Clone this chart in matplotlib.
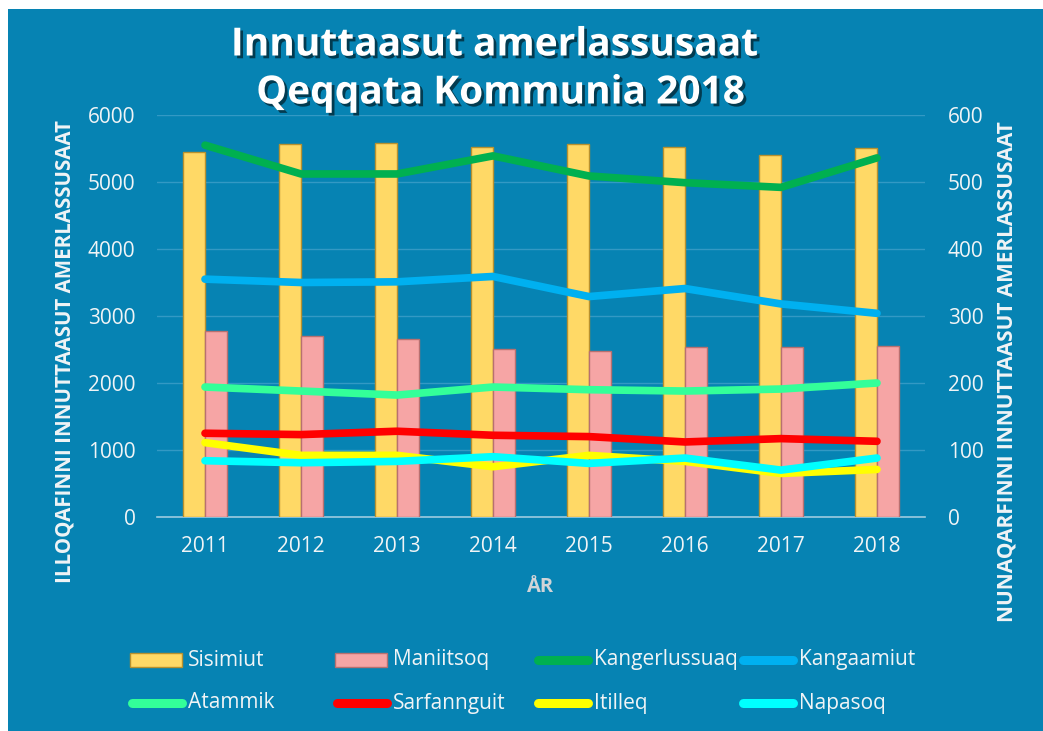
import matplotlib
matplotlib.use("Agg")
import matplotlib.pyplot as plt
import matplotlib.patheffects as pe
from matplotlib.patches import Rectangle
from matplotlib.lines import Line2D
import numpy as np

plt.rcParams['font.family'] = ['Open Sans', 'DejaVu Sans']

years = ['2011', '2012', '2013', '2014', '2015', '2016', '2017', '2018']
sisimiut = [5443, 5563, 5578, 5518, 5563, 5518, 5403, 5503]
maniitsoq = [2776, 2697, 2657, 2507, 2482, 2542, 2542, 2557]
kangerlussuaq = [555, 512, 512, 539, 509, 499, 492, 536]
kangaamiut = [355, 350, 351, 359, 329, 341, 318, 304]
atammik = [194, 188, 182, 194, 190, 188, 191, 200]
sarfannguit = [125, 123, 128, 122, 120, 112, 117, 113]
itilleq = [111, 92, 92, 75, 92, 83, 65, 71]
napasoq = [84, 81, 83, 90, 80, 88, 70, 88]

line_series = [
    ('Kangerlussuaq', kangerlussuaq, '#00B050'),
    ('Kangaamiut', kangaamiut, '#00B0F0'),
    ('Atammik', atammik, '#33FF99'),
    ('Sarfannguit', sarfannguit, '#FF0000'),
    ('Itilleq', itilleq, '#FFFF00'),
    ('Napasoq', napasoq, '#00FFFF'),
]

BG = '#0683B3'
TXT = '#F0F4F6'
W, H = 1043, 731
fig = plt.figure(figsize=(W / 100, H / 100), dpi=100)
fig.patch.set_facecolor('white')
fig.patches.append(Rectangle((8 / W, 0), 1 - 8 / W, 1 - 9 / H, transform=fig.transFigure,
                             facecolor=BG, edgecolor='none', zorder=-10))

ax = fig.add_axes([157 / W, 1 - 517 / H, (925 - 157) / W, (517 - 115) / H])
ax.set_zorder(1)
ax.set_facecolor('none')
x = np.arange(len(years))
bw = 0.225
ax.bar(x - bw, sisimiut, bw, align='edge', color='#FFD966', edgecolor='#B8912E', linewidth=1.0, zorder=3)
ax.bar(x, maniitsoq, bw, align='edge', color='#F6A5A5', edgecolor='#B87070', linewidth=1.0, zorder=3)
ax.set_xlim(-0.5, len(years) - 0.5)
ax.set_ylim(0, 6000)
ax.set_yticks(range(0, 6001, 1000))
ax.set_xticks(x)
ax.set_xticklabels(years)
ax.grid(axis='y', color='#3399C4', linewidth=1, zorder=0)
ax.set_axisbelow(True)
for s in ['top', 'right', 'left']:
    ax.spines[s].set_visible(False)
ax.spines['bottom'].set_color('#9CCBE0')
ax.spines['bottom'].set_linewidth(1.2)
ax.tick_params(axis='both', length=0, labelsize=15, colors=TXT)
ax.tick_params(axis='y', pad=15.5)
ax.tick_params(axis='x', pad=14)

ax2 = ax.twinx()
ax2.set_zorder(2)
ax2.set_facecolor('none')
ax2.set_ylim(0, 600)
ax2.set_yticks(range(0, 601, 100))
for s in ax2.spines.values():
    s.set_visible(False)
ax2.tick_params(axis='y', length=0, labelsize=15, colors=TXT, pad=16.5)
for name, vals, col in line_series:
    ax2.plot(x, vals, color=col, linewidth=5.5, solid_capstyle='round', solid_joinstyle='round', zorder=4)

# axis titles
fig.text(65 / W, 1 - 352 / H, 'ILLOQAFINNI INNUTTAASUT AMERLASSUSAAT', rotation=90,
         ha='center', va='center', color=TXT, fontsize=14.8, fontweight='bold')
fig.text(1007 / W, 1 - 372 / H, 'NUNAQARFINNI INNUTTAASUT AMERLASSUSAAT', rotation=90,
         ha='center', va='center', color=TXT, fontsize=15, fontweight='bold')
fig.text(541 / W, 1 - 587 / H, 'ÅR', ha='center', va='center', color='#D0D4D8',
         fontsize=14.5, fontweight='bold')

# title
shadow = [pe.withSimplePatchShadow(offset=(2, -2), shadow_rgbFace='black', alpha=0.55)]
fig.text(494 / W, 1 - 45 / H, 'Innuttaasut amerlassusaat', ha='center', va='center',
         color='white', fontsize=28, fontweight='bold', path_effects=shadow)
fig.text(500 / W, 1 - 93 / H, 'Qeqqata Kommunia 2018', ha='center', va='center',
         color='white', fontsize=28, fontweight='bold', path_effects=shadow)

# legend (manual, 4 columns x 2 rows)
col_x = [130, 335, 536, 741]
row_y = [660, 703]
entries = [('Sisimiut', 'bar', '#FFD966', '#B8912E'), ('Maniitsoq', 'bar', '#F6A5A5', '#B87070')]
entries += [(n, 'line', c, None) for n, v, c in line_series]
for i, (name, kind, col, ec) in enumerate(entries):
    r, c = divmod(i, 4)
    x0 = col_x[c]
    y0 = 1 - row_y[r] / H
    if kind == 'bar':
        fig.patches.append(Rectangle((x0 / W, y0 - 7 / H), 52 / W, 14 / H, transform=fig.transFigure,
                                     facecolor=col, edgecolor=ec, linewidth=1, zorder=3))
    else:
        fig.lines.append(Line2D([(x0 + 2) / W, (x0 + 52) / W], [y0, y0], transform=fig.transFigure,
                                color=col, linewidth=6.5, solid_capstyle='round', zorder=3))
    fig.text((x0 + 58) / W, y0, name, ha='left', va='center', color=TXT, fontsize=15)

fig.savefig('out.png', dpi=100, facecolor=fig.get_facecolor())
